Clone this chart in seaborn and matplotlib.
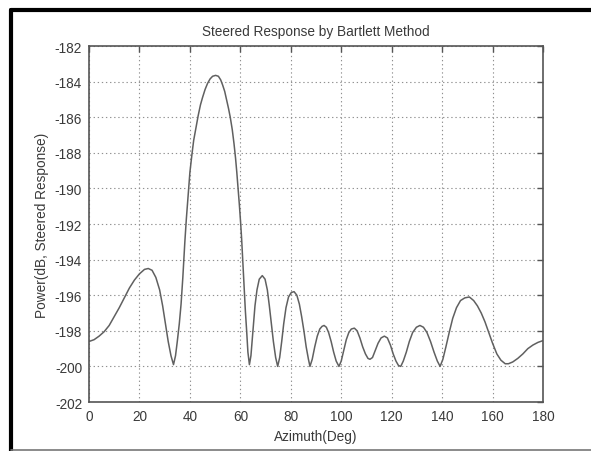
import seaborn as sns
import numpy as np
import pandas as pd
import matplotlib.pyplot as plt
from matplotlib.lines import Line2D

# steered response
azimuth = [0, 2, 4, 6, 8, 10, 12, 14, 16, 18, 20, 22, 23.5, 25, 26.5, 28, 29.2, 30.3,
           31.4, 32.5, 33.5, 34.3, 35, 35.8, 36.5, 37.2,
           38, 38.6, 39.3, 40, 40.8, 41.5, 42.4, 43.3, 44.2, 45, 46, 47, 48, 49, 50.2,
           51.3, 52.2, 53, 53.8, 54.5, 55.3, 56, 56.8, 57.5, 58.1, 58.6, 59.1, 59.6,
           60.1, 60.5, 61, 61.5, 62, 62.5, 63, 63.6, 64.2, 65, 65.8, 66.6, 67.5, 68.7,
           69.8, 70.7, 71.5, 72.3, 73.1, 74, 74.8, 75.6, 76.4, 77.2, 78.1, 79.1, 80.2,
           81.3, 82.4, 83.4, 84.3, 85.2, 86.1, 87, 87.6, 88.5, 89.5, 90.5, 91.5, 92.4,
           93.2, 94.1, 95, 96, 97, 98, 99.1, 100, 101, 102, 103, 104, 105.2, 106.3,
           107.4, 108.5, 109.6, 110.6, 111.4, 112.4, 113.5, 114.6, 115.8, 117.1, 118.3,
           119.5, 120.6, 121.7, 122.7, 123.6, 124.6, 125.8, 127, 128.3, 129.8, 131.2,
           132.6, 134, 135.4, 136.8, 138.1, 139.2, 140.3, 141.5, 142.8, 144.2, 145.7,
           147.3, 149, 150.8, 152.5, 154, 155.5, 157, 158.5, 160, 161.7, 163.3, 165,
           166.3, 168, 170, 172, 174, 176, 178, 180]
power = [-198.6, -198.5, -198.3, -198.05, -197.7, -197.2, -196.7, -196.15, -195.6,
         -195.15, -194.8, -194.55, -194.5, -194.6, -195.0, -195.7, -196.6, -197.6,
         -198.6, -199.4, -199.9, -199.4, -198.6, -197.6, -196.5, -195.0,
         -193.0, -191.7, -190.4, -189.1, -188.1, -187.3, -186.6, -185.9, -185.3,
         -184.9, -184.45, -184.1, -183.85, -183.7, -183.65, -183.7, -183.9, -184.2,
         -184.55, -185.0, -185.5, -186.0, -186.7, -187.5, -188.3, -189.1, -190.0,
         -190.9, -191.9, -192.8, -194.2, -195.6, -196.9, -198.0, -199.2, -199.9,
         -199.4, -198.0, -196.6, -195.7, -195.1, -194.9, -195.1, -195.7, -196.6,
         -197.6, -198.6, -199.5, -200.0, -199.5, -198.6, -197.6, -196.7, -196.1,
         -195.85, -195.8, -196.0, -196.5, -197.2, -198.0, -198.9, -199.6, -200.0,
         -199.6, -198.9, -198.3, -197.9, -197.75, -197.7, -197.8, -198.1, -198.6,
         -199.2, -199.7, -200.0, -199.7, -199.1, -198.5, -198.1, -197.9, -197.85,
         -198.0, -198.4, -198.9, -199.3, -199.55, -199.6, -199.5, -199.1, -198.7,
         -198.4, -198.3, -198.4, -198.8, -199.3, -199.7, -199.95, -200.0, -199.7,
         -199.2, -198.6, -198.1, -197.8, -197.7, -197.8, -198.1, -198.6, -199.2,
         -199.7, -200.0, -199.6, -198.9, -198.1, -197.3, -196.7, -196.3, -196.15,
         -196.1, -196.3, -196.6, -197.0, -197.5, -198.1, -198.7, -199.3, -199.65,
         -199.85, -199.85, -199.75, -199.55, -199.3, -199.0, -198.8, -198.65, -198.55]

x_ticks = [0, 20, 40, 60, 80, 100, 120, 140, 160, 180]
y_ticks = [-182, -184, -186, -188, -190, -192, -194, -196, -198, -200, -202]

df = pd.DataFrame({"Azimuth": azimuth, "Power": power})

sns.set_style("white")
plt.rcParams['font.family'] = ['Liberation Sans', 'DejaVu Sans']
plt.rcParams['axes.unicode_minus'] = False

fig = plt.figure(figsize=(5.91, 4.52), dpi=100)
ax = fig.add_axes([0.1506, 0.1084, 0.7682, 0.7876])

sns.lineplot(data=df, x="Azimuth", y="Power", color="#606060", linewidth=1.1, ax=ax)

ax.set_xlim(0, 180)
ax.set_ylim(-202, -182)
ax.set_xticks(x_ticks)
ax.set_yticks(y_ticks)
ax.grid(True, linestyle=(0, (1.2, 2.5)), color="#909090", linewidth=0.8)
ax.tick_params(direction="in", top=True, right=True, length=4, width=1,
               color="#555555", labelsize=9.8, labelcolor="#3a3a3a", pad=5)
for s in ax.spines.values():
    s.set_color("#555555")
    s.set_linewidth(1.2)

ax.set_title("Steered Response by Bartlett Method", fontsize=9.8, color="#3a3a3a", pad=8)
ax.set_xlabel("Azimuth(Deg)", fontsize=9.8, color="#3a3a3a", labelpad=4)
ax.set_ylabel("Power(dB, Steered Response)", fontsize=9.8, color="#3a3a3a", labelpad=4)

# frame round the picture
fig.add_artist(Line2D([11 / 591, 1], [1 - 11 / 452, 1 - 11 / 452], color="black", linewidth=3))
fig.add_artist(Line2D([11 / 591, 11 / 591], [0, 1 - 11 / 452], color="black", linewidth=3))
fig.add_artist(Line2D([11 / 591, 1], [1.5 / 452, 1.5 / 452], color="#777777", linewidth=1.2))

fig.savefig("out.png", dpi=100)
